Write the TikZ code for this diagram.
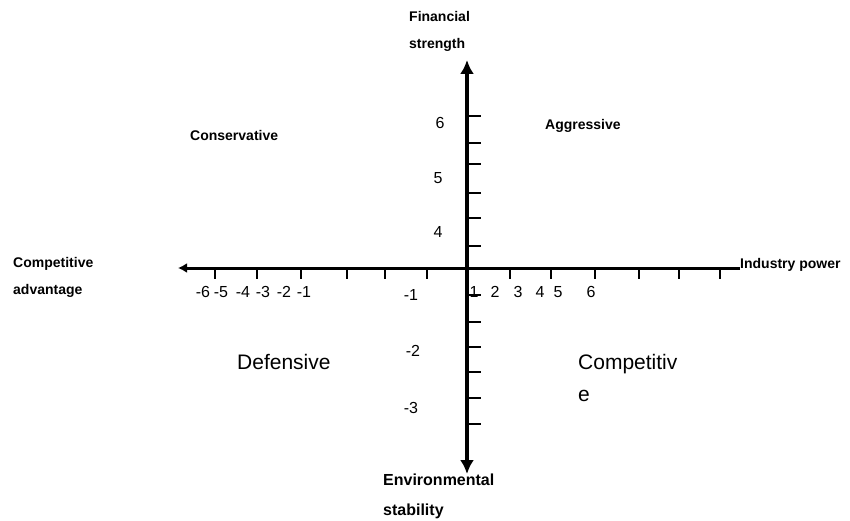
\documentclass[tikz,border=0pt]{standalone}
\usepackage{fontspec}
\setmainfont{Liberation Sans}
\usetikzlibrary{arrows.meta}
\definecolor{spInk}{HTML}{000000}
\tikzset{
  sp axis/.style={draw=spInk, line width=3.5pt},
  sp tick/.style={draw=spInk, line width=2.6pt},
  sp label/.style={font=\fontsize{14}{27}\selectfont\bfseries, text=spInk, align=left, inner sep=0pt, anchor=west},
  sp zone/.style={font=\fontsize{21}{32}\selectfont, text=spInk, align=left, inner sep=0pt, anchor=west},
  sp num/.style={font=\fontsize{16}{18}\selectfont, text=spInk, inner sep=0pt},
}

\begin{document}
\begin{tikzpicture}[x=1pt,y=-1pt]
  \useasboundingbox (0,0) rectangle (850,521);
  % axes
  \coordinate (csW) at (178,268);
  \coordinate (csE) at (740,268);
  \coordinate (csN) at (467,60);
  \coordinate (csS) at (467,474);
  \draw[sp axis, line width=3pt, -{Latex[length=9pt,width=10pt]}] (csE) -- (csW);
  \draw[sp axis, {Latex[length=14pt,width=14pt]}-{Latex[length=14pt,width=14pt]}] (csS) -- (csN);
  % ticks
  \foreach \x in {215,257,301,347,385,427,510,551,595,639,679,720}{\draw[sp tick] (\x,270)--(\x,279);}
  \foreach \y in {116,143,164,193,218,246,295,322,347,372,398,424}{\draw[sp tick] (469,\y)--(481,\y);}
  % numbers
  \foreach \n/\x in {-6/203,-5/221,-4/243,-3/263,-2/284,-1/304,1/474,2/495,3/518,4/540,5/558,6/591}{\node[sp num] (h\n) at (\x,292) {\n};}
  \foreach \n/\x/\y in {6/440/123,5/438/178,4/438/232,-1/411/295,-2/413/351,-3/411/408}{\node[sp num] (v\n) at (\x,\y) {\n};}
  % axis titles
  \node[sp label] (fs) at (409,31) {Financial\\strength};
  \node[sp label] (ca) at (13,277) {Competitive\\advantage};
  \node[sp label] (is) at (740,265) {Industry power};
  \node[sp label, font=\fontsize{16}{30}\selectfont\bfseries] (es) at (383,496) {Environmental\\stability};
  % quadrants
  \node[sp label] (cons) at (190,135) {Conservative};
  \node[sp label] (aggr) at (545,126) {Aggressive};
  \node[sp zone] (defn) at (237,362) {Defensive};
  \node[sp zone] (comp) at (578,378) {Competitiv\\e};
\end{tikzpicture}
\end{document}
